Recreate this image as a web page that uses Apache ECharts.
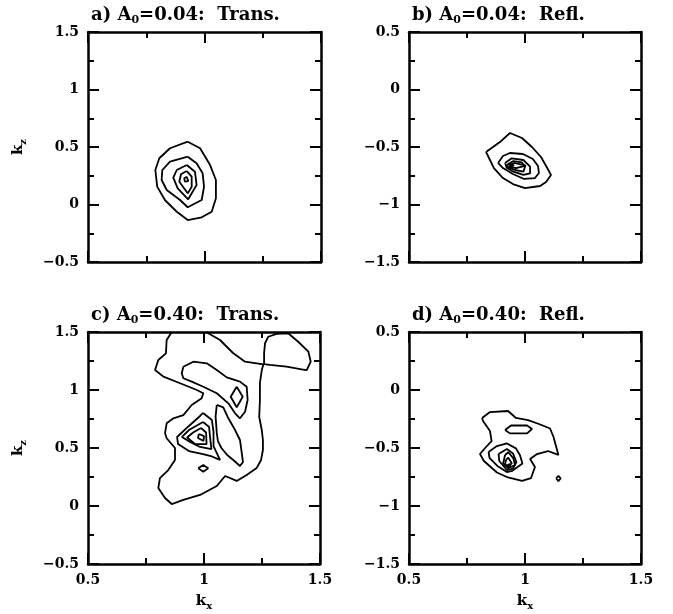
<!DOCTYPE html>
<html>
<head>
<meta charset="utf-8">
<script src="https://cdn.jsdelivr.net/npm/echarts@6/dist/echarts.min.js"></script>
<style>
html, body { margin: 0; padding: 0; background: #fff; }
#chart { width: 673px; height: 614px; }
</style>
</head>
<body>
<div id="chart"></div>
<script>
// panel headers
var panelLetters = ['a)', 'b)', 'c)', 'd)'];
var amplitudes = ['0.04', '0.04', '0.40', '0.40'];
var panelKinds = ['Trans.', 'Refl.', 'Trans.', 'Refl.'];

// axis ranges (kx, kz)
var kxRange = [0.5, 1.5];
var kzRangeTrans = [-0.5, 1.5];
var kzRangeRefl = [-1.5, 0.5];

// contour lines, [kx, kz]
// a) A0=0.04 transmitted
var aLevel1 = [[0.928,0.546],[0.981,0.489],[1.024,0.343],[1.049,0.213],[1.049,0.054],[1.031,-0.063],[0.988,-0.111],[0.928,-0.135],[0.881,-0.063],[0.830,0.039],[0.797,0.155],[0.789,0.300],[0.806,0.402],[0.852,0.489],[0.928,0.546]];
var aLevel2 = [[0.928,0.416],[0.966,0.358],[0.992,0.271],[0.998,0.155],[0.988,0.039],[0.928,-0.024],[0.895,0.039],[0.838,0.126],[0.816,0.213],[0.819,0.300],[0.852,0.372],[0.928,0.416]];
var aLevel3 = [[0.924,0.343],[0.959,0.285],[0.966,0.170],[0.930,0.045],[0.885,0.141],[0.866,0.233],[0.881,0.300],[0.924,0.343]];
var aLevel4 = [[0.924,0.291],[0.945,0.242],[0.945,0.155],[0.928,0.097],[0.892,0.198],[0.899,0.263],[0.924,0.291]];
var aLevel5 = [[0.924,0.242],[0.930,0.204],[0.916,0.198],[0.913,0.228],[0.924,0.242]];

// b) A0=0.04 reflected
var bLevel1 = [[0.832,-0.543],[0.892,-0.457],[0.935,-0.378],[0.987,-0.422],[1.030,-0.500],[1.069,-0.587],[1.091,-0.665],[1.112,-0.743],[1.091,-0.804],[1.065,-0.839],[1.000,-0.857],[0.948,-0.822],[0.905,-0.770],[0.866,-0.683],[0.849,-0.613],[0.832,-0.543]];
var bLevel2 = [[0.884,-0.639],[0.905,-0.578],[0.935,-0.552],[0.991,-0.561],[1.034,-0.604],[1.056,-0.665],[1.060,-0.726],[1.043,-0.770],[0.996,-0.778],[0.948,-0.735],[0.905,-0.683],[0.884,-0.639]];
var bLevel3 = [[0.914,-0.639],[0.943,-0.598],[0.993,-0.613],[1.022,-0.671],[1.022,-0.729],[0.993,-0.743],[0.950,-0.715],[0.921,-0.680],[0.914,-0.639]];
var bLevel4 = [[0.921,-0.657],[0.950,-0.622],[0.986,-0.633],[1.000,-0.671],[0.993,-0.715],[0.957,-0.700],[0.928,-0.677],[0.921,-0.657]];
var bLevel5 = [[0.931,-0.657],[0.953,-0.639],[1.004,-0.661],[0.961,-0.683],[0.935,-0.674],[0.931,-0.657]];
var bLevel6 = [[0.938,-0.652],[0.953,-0.659],[0.940,-0.670],[0.938,-0.652]];

// c) A0=0.40 transmitted
var cOuter = [[1.009,1.5],[1.069,1.431],[1.125,1.319],[1.177,1.244],[1.256,1.220],[1.249,1.172],[1.241,1.060],[1.241,0.914],[1.238,0.767],[1.249,0.655],[1.254,0.569],[1.254,0.483],[1.246,0.397],[1.227,0.328],[1.184,0.267],[1.141,0.216],[1.091,0.259],[1.055,0.172],[0.983,0.095],[0.911,0.052],[0.861,0.017],[0.832,0.069],[0.803,0.155],[0.810,0.241],[0.846,0.310],[0.875,0.397],[0.875,0.500],[0.839,0.584],[0.832,0.629],[0.839,0.713],[0.868,0.756],[0.911,0.784],[0.947,0.871],[0.990,0.928],[0.997,0.972],[0.969,1.000],[0.897,1.058],[0.825,1.115],[0.789,1.172],[0.803,1.259],[0.836,1.316],[0.839,1.431],[0.861,1.5]];
var cCorner = [[1.259,1.224],[1.259,1.316],[1.263,1.403],[1.277,1.459],[1.313,1.483],[1.363,1.489],[1.406,1.416],[1.450,1.330],[1.460,1.244],[1.443,1.172],[1.421,1.178],[1.356,1.201],[1.284,1.216],[1.259,1.224]];
var cRidge = [[0.911,1.201],[0.954,1.244],[1.012,1.230],[1.055,1.172],[1.098,1.109],[1.155,1.072],[1.184,1.028],[1.188,0.914],[1.177,0.813],[1.155,0.756],[1.134,0.799],[1.105,0.885],[1.055,0.972],[0.997,1.028],[0.947,1.072],[0.911,1.101],[0.904,1.144],[0.911,1.201]];
var cRidgeTop = [[1.141,1.028],[1.167,0.942],[1.141,0.851],[1.115,0.942],[1.141,1.028]];
var cValley = [[1.055,0.871],[1.083,0.851],[1.105,0.756],[1.134,0.655],[1.155,0.569],[1.163,0.454],[1.168,0.379],[1.155,0.345],[1.130,0.390],[1.100,0.440],[1.075,0.500],[1.060,0.560],[1.055,0.630],[1.050,0.770],[1.055,0.871]];
var cPeak1 = [[0.996,0.802],[1.034,0.741],[1.041,0.638],[1.041,0.517],[1.069,0.397],[1.034,0.427],[0.996,0.448],[0.935,0.474],[0.888,0.534],[0.884,0.595],[0.935,0.690],[0.983,0.776],[0.996,0.802]];
var cPeak2 = [[0.996,0.724],[1.022,0.681],[1.026,0.595],[1.032,0.491],[0.983,0.509],[0.940,0.552],[0.905,0.595],[0.935,0.655],[0.996,0.724]];
var cPeak3 = [[0.987,0.672],[1.009,0.634],[1.011,0.534],[0.961,0.534],[0.927,0.591],[0.953,0.634],[0.987,0.672]];
var cPeak4 = [[0.978,0.621],[1.000,0.603],[0.998,0.560],[0.974,0.586],[0.978,0.621]];
var cSpot = [[0.975,0.325],[0.997,0.353],[1.018,0.325],[0.997,0.296],[0.975,0.325]];

// d) A0=0.40 reflected
var dOuter = [[0.815,-0.241],[0.849,-0.190],[0.927,-0.181],[0.961,-0.241],[1.013,-0.259],[1.060,-0.293],[1.108,-0.332],[1.123,-0.405],[1.144,-0.560],[1.099,-0.526],[1.052,-0.552],[1.022,-0.595],[1.043,-0.664],[1.026,-0.759],[0.987,-0.784],[0.927,-0.754],[0.879,-0.711],[0.823,-0.612],[0.806,-0.552],[0.828,-0.500],[0.856,-0.440],[0.849,-0.353],[0.819,-0.267],[0.815,-0.241]];
var dUpper = [[0.914,-0.345],[0.940,-0.306],[1.009,-0.306],[1.030,-0.336],[1.009,-0.374],[0.935,-0.374],[0.914,-0.345]];
var dPeak1 = [[0.843,-0.534],[0.879,-0.483],[0.922,-0.461],[0.961,-0.503],[0.978,-0.560],[0.989,-0.634],[0.944,-0.698],[0.922,-0.707],[0.881,-0.655],[0.847,-0.586],[0.843,-0.534]];
var dPeak2 = [[0.886,-0.552],[0.922,-0.509],[0.948,-0.547],[0.963,-0.621],[0.948,-0.677],[0.922,-0.690],[0.889,-0.612],[0.886,-0.552]];
var dPeak3 = [[0.914,-0.560],[0.928,-0.537],[0.950,-0.589],[0.957,-0.647],[0.928,-0.675],[0.906,-0.632],[0.914,-0.560]];
var dPeak4 = [[0.918,-0.603],[0.928,-0.584],[0.943,-0.632],[0.928,-0.661],[0.914,-0.641],[0.918,-0.603]];
var dPeak5 = [[0.924,-0.647],[0.935,-0.638],[0.937,-0.660],[0.926,-0.664],[0.924,-0.647]];
var dSpot = [[1.134,-0.761],[1.144,-0.741],[1.154,-0.761],[1.144,-0.785],[1.134,-0.761]];

var panelContours = [
    [aLevel1, aLevel2, aLevel3, aLevel4, aLevel5],
    [bLevel1, bLevel2, bLevel3, bLevel4, bLevel5, bLevel6],
    [cOuter, cCorner, cRidge, cRidgeTop, cValley, cPeak1, cPeak2, cPeak3, cPeak4, cSpot],
    [dOuter, dUpper, dPeak1, dPeak2, dPeak3, dPeak4, dPeak5, dSpot]
];
var panelKz = [kzRangeTrans, kzRangeRefl, kzRangeTrans, kzRangeRefl];

var FONT = 'DejaVu Serif';
var grids = [
    {left: 88, top: 32, width: 233, height: 230},
    {left: 409, top: 32, width: 232, height: 230},
    {left: 88, top: 332, width: 232, height: 232},
    {left: 409, top: 332, width: 232, height: 232}
];

var richText = {
    m: {fontFamily: FONT, fontWeight: 'bold', fontSize: 18, lineHeight: 22, color: '#000'},
    s: {fontFamily: FONT, fontWeight: 'bold', fontSize: 11, lineHeight: 11, padding: [11, 0, 0, 0], color: '#000'}
};
var nameRich = {
    m: {fontFamily: FONT, fontWeight: 'bold', fontSize: 15, lineHeight: 20, color: '#000'},
    s: {fontFamily: FONT, fontWeight: 'bold', fontSize: 10, lineHeight: 10, padding: [10, 0, 0, 0], color: '#000'}
};

var frameLine = {show: true, onZero: false, lineStyle: {color: '#000', width: 2.5}};
var majorTick = {show: true, inside: true, length: 11, lineStyle: {color: '#000', width: 2}};
var minorTick = {show: true, splitNumber: 2, length: 6, lineStyle: {color: '#000', width: 2}};

function tickLabel(show) {
    return {
        show: show, margin: 9, showMinLabel: true, showMaxLabel: true,
        fontFamily: FONT, fontWeight: 'bold', fontSize: 14, color: '#000',
        formatter: function (v) { return String(v).replace('-', '\u2212'); }
    };
}

var titles = [], xAxes = [], yAxes = [], series = [];
grids.forEach(function (g, i) {
    titles.push({
        left: g.left + 3, top: (i < 2 ? 4 : 304), padding: 0,
        text: '{m|' + panelLetters[i] + ' A}{s|0}{m|=' + amplitudes[i] + ':  ' + panelKinds[i] + '}',
        textStyle: {rich: richText}
    });
    var bottomRow = i >= 2, leftCol = (i % 2) === 0;
    ['bottom', 'top'].forEach(function (pos) {
        xAxes.push({
            type: 'value', gridIndex: i, position: pos,
            min: kxRange[0], max: kxRange[1], interval: 0.5,
            axisLine: frameLine, axisTick: majorTick, minorTick: minorTick,
            splitLine: {show: false},
            axisLabel: tickLabel(pos === 'bottom' && bottomRow),
            name: (pos === 'bottom' && bottomRow) ? '{m|k}{s|x}' : '',
            nameLocation: 'middle', nameGap: 27,
            nameTextStyle: {rich: nameRich}
        });
    });
    ['left', 'right'].forEach(function (pos) {
        yAxes.push({
            type: 'value', gridIndex: i, position: pos,
            min: panelKz[i][0], max: panelKz[i][1], interval: 0.5,
            axisLine: frameLine, axisTick: majorTick, minorTick: minorTick,
            splitLine: {show: false},
            axisLabel: tickLabel(pos === 'left'),
            name: (pos === 'left' && leftCol) ? '{m|k}{s|z}' : '',
            nameLocation: 'middle', nameGap: 60, nameRotate: 90,
            nameTextStyle: {rich: nameRich}
        });
    });
    panelContours[i].forEach(function (line) {
        series.push({
            type: 'line', xAxisIndex: 2 * i, yAxisIndex: 2 * i,
            data: line, showSymbol: false, symbol: 'none', smooth: false,
            lineStyle: {color: '#000', width: 1.8}, silent: true
        });
    });
});

var chart = echarts.init(document.getElementById('chart'));
chart.setOption({
    backgroundColor: '#fff',
    animation: false,
    title: titles,
    grid: grids,
    xAxis: xAxes,
    yAxis: yAxes,
    series: series
});
</script>
</body>
</html>
